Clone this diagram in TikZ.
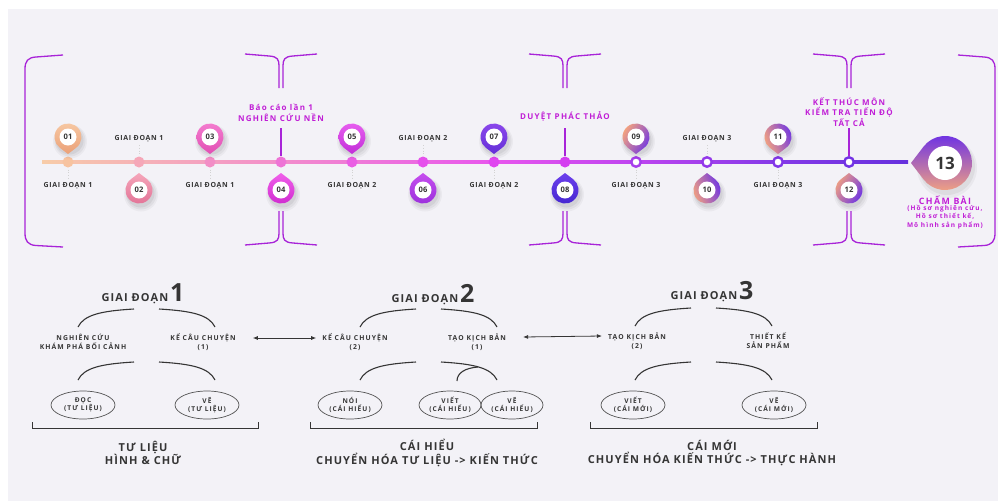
\documentclass[tikz,border=0pt]{standalone}
\usepackage{fontspec}
\setmainfont{Open Sans}
\newfontfamily\lblfont{Open Sans}[LetterSpace=10]
\newfontfamily\widefont{Open Sans}[LetterSpace=16]
\usetikzlibrary{calc,shapes.geometric,arrows.meta}

\definecolor{bgc}{HTML}{F3F2F7}
\definecolor{ink}{HTML}{353535}
\definecolor{brk}{HTML}{A824D8}
\definecolor{mag}{HTML}{C01ED6}
\definecolor{peach}{HTML}{F5A67E}
\definecolor{violet}{HTML}{6E32E4}
\definecolor{pinkm}{HTML}{E04ED8}
% dot colours along the timeline
\definecolor{d1}{HTML}{F7C3A0}
\definecolor{d2}{HTML}{F5A7B8}
\definecolor{d3}{HTML}{F28EC6}
\definecolor{d4}{HTML}{EE74D6}
\definecolor{d5}{HTML}{EA5EE4}
\definecolor{d6}{HTML}{E650EC}
\definecolor{d7}{HTML}{E046F0}
\definecolor{d8}{HTML}{D43EF0}
\definecolor{d9}{HTML}{A63DEC}
\definecolor{d10}{HTML}{9338EA}
\definecolor{d11}{HTML}{8236E8}
\definecolor{d12}{HTML}{7232E4}
% marker fills (top / bottom)
\definecolor{m1t}{HTML}{F7C9A4}\definecolor{m1b}{HTML}{EBA077}
\definecolor{m2t}{HTML}{F5A6BA}\definecolor{m2b}{HTML}{E27296}
\definecolor{m3t}{HTML}{F47ED0}\definecolor{m3b}{HTML}{E24FB4}
\definecolor{m4t}{HTML}{F060EA}\definecolor{m4b}{HTML}{CF2ACF}
\definecolor{m5t}{HTML}{E860F0}\definecolor{m5b}{HTML}{C22ED8}
\definecolor{m6t}{HTML}{C64EEE}\definecolor{m6b}{HTML}{9A30DC}
\definecolor{m7t}{HTML}{8C48EC}\definecolor{m7b}{HTML}{6530D8}
\definecolor{m8t}{HTML}{6C40EC}\definecolor{m8b}{HTML}{4426D0}
\definecolor{mxl}{HTML}{F5A47E}\definecolor{mxm}{HTML}{D55AD8}\definecolor{mxr}{HTML}{6E34E4}

% multi-stop gradient of the timeline bar
\pgfdeclarehorizontalshading{tline}{100bp}{
 rgb(0bp)=(0.97,0.80,0.66);
 rgb(25bp)=(0.97,0.80,0.66);
 rgb(39bp)=(0.95,0.55,0.80);
 rgb(51bp)=(0.91,0.34,0.93);
 rgb(59bp)=(0.75,0.27,0.94);
 rgb(67bp)=(0.53,0.23,0.91);
 rgb(75bp)=(0.40,0.19,0.87);
 rgb(100bp)=(0.40,0.19,0.87)}

\tikzset{
  tl/.style={font=\lblfont\bfseries\fontsize{7}{8}\selectfont, text=ink, inner sep=1},
  mg/.style={font=\widefont\bfseries\fontsize{8}{10.5}\selectfont, text=mag, align=center, inner sep=1},
  mgs/.style={font=\widefont\bfseries\fontsize{6.5}{8.4}\selectfont, text=mag, align=center, inner sep=1},
  num/.style={font=\bfseries\fontsize{7.6}{8}\selectfont, text=ink, inner sep=0},
  dotf/.style={circle, inner sep=0, minimum size=11},
  doth/.style={circle, inner sep=0, minimum size=9.5, fill=white, line width=2.4},
  brline/.style={brk, line width=1.3},
  vline/.style={brk, line width=1.6},
  faint/.style={gray!35, line width=0.8, dotted},
  hd/.style={font=\lblfont\bfseries\fontsize{11}{13}\selectfont, text=ink, inner sep=0},
  sm/.style={font=\widefont\bfseries\fontsize{6.8}{9}\selectfont, text=ink, align=center, inner sep=0},
  el/.style={ellipse, draw=ink!85, line width=0.7, minimum width=64, minimum height=28, inner sep=0,
             align=center, font=\widefont\bfseries\fontsize{6.6}{8.4}\selectfont, text=ink},
  bt/.style={font=\lblfont\bfseries\fontsize{11}{13.5}\selectfont, text=ink, align=center, inner sep=0},
  arcl/.style={ink, line width=1.1},
  brack/.style={ink, line width=1},
  dbl/.style={ink, line width=0.8, {Latex[length=5,width=4]}-{Latex[length=5,width=4]}},
  pics/marker/.style n args={3}{code={
    \fill[black,opacity=0.035] (2,4.5) circle (17);
    \fill[black,opacity=0.045] (2,4) circle (15.5);
    \fill[black,opacity=0.055] (1.5,3.5) circle (14);
    \shade[#3] (#2:17) -- (#2-37:13.5) arc[start angle=#2-37, end angle=#2+37-360, radius=13.5] -- cycle;
    \fill[white] (0,0) circle (8.5);
    \node[num] (-n) {#1};
  }},
  pics/dbrace/.style={code={
    \draw[brline] (-36,0) -- (-12,2) .. controls (-3,2.5) and (-2,6) .. (-2,12) -- (-2,34);
    \draw[brline] (36,0) -- (12,2) .. controls (3,2.5) and (2,6) .. (2,12) -- (2,34);
  }},
  pics/tarc/.style={code={
    \draw[arcl] (0,0) .. controls (6,-12) and (22,-16) .. (56,-18);
  }},
}

\begin{document}
\begin{tikzpicture}[x=1pt,y=-1pt]
\useasboundingbox (0,0) rectangle (998,501);
\fill[bgc] (8,9) rectangle (998,501);

% ---------- outer brackets ----------
\draw[brline] (63,55) -- (36,57) .. controls (28,57.5) and (25,61) .. (25,69) -- (25,233)
  .. controls (25,241) and (28,245) .. (36,245.5) -- (63,247);
\draw[brline] (958,55) -- (984,57) .. controls (992,57.5) and (995,61) .. (995,69) -- (995,233)
  .. controls (995,241) and (992,245) .. (984,245.5) -- (958,247);

% ---------- double braces ----------
\foreach \c/\n in {281/a,565/b,849/c}{
  \pic (bt\n) at (\c,54) {dbrace};
  \pic[yscale=-1] (bb\n) at (\c,245) {dbrace};
}

% ---------- timeline bar ----------
\shade[shading=tline] (42,160.7) rectangle (908,163.7);

% ---------- dots ----------
\foreach \i/\x in {1/68,2/139,3/210,4/281,5/352,6/423,7/494,8/565}
  \node[dotf, fill=d\i] (p\i) at (\x,162) {};
\foreach \i/\x in {9/636,10/707,11/778,12/849}
  \node[doth, draw=d\i] (p\i) at (\x,162) {};

% ---------- markers ----------
\pic (m1) at (68,137) {marker={01}{90}{top color=m1t,bottom color=m1b}};
\pic (m2) at (139,190) {marker={02}{-90}{top color=m2t,bottom color=m2b}};
\pic (m3) at (210,137) {marker={03}{90}{top color=m3t,bottom color=m3b}};
\pic (m4) at (281,190) {marker={04}{-90}{top color=m4t,bottom color=m4b}};
\pic (m5) at (352,137) {marker={05}{90}{top color=m5t,bottom color=m5b}};
\pic (m6) at (423,190) {marker={06}{-90}{top color=m6t,bottom color=m6b}};
\pic (m7) at (494,137) {marker={07}{90}{top color=m7t,bottom color=m7b}};
\pic (m8) at (565,190) {marker={08}{-90}{top color=m8t,bottom color=m8b}};
\pic (m9) at (636,137) {marker={09}{90}{left color=mxl,middle color=mxm,right color=mxr,shading angle=60}};
\pic (m10) at (707,190) {marker={10}{-90}{left color=mxl,middle color=mxm,right color=mxr,shading angle=110}};
\pic (m11) at (778,137) {marker={11}{90}{left color=mxl,middle color=mxm,right color=mxr,shading angle=110}};
\pic (m12) at (849,190) {marker={12}{-90}{left color=mxl,middle color=mxm,right color=mxr,shading angle=60}};

% ---------- final marker 13 ----------
\begin{scope}[shift={(945,163)}]
  \fill[black,opacity=0.04] (2,5) circle (30);
  \fill[black,opacity=0.05] (2,4) circle (28);
  \shade[top color=violet, middle color=pinkm, bottom color=peach]
    (180:34) -- (143:27) arc[start angle=143, end angle=-143, radius=27] -- cycle;
  \fill[white] (0,0) circle (17);
  \node[font=\bfseries\fontsize{17}{18}\selectfont, text=ink, inner sep=0] (m13) at (0,0) {13};
\end{scope}

% ---------- timeline labels ----------
\foreach \x/\k/\n in {68/1/g1,210/1/g3,352/2/g5,494/2/g7,636/3/g9,778/3/g11}{
  \node[tl] (\n) at (\x,186) {GIAI ĐOẠN \k};
  \draw[faint] (\x,169.5) -- (\x,179);
}
\foreach \x/\k/\n in {139/1/g2,423/2/g6,707/3/g10}{
  \node[tl] (\n) at (\x,139) {GIAI ĐOẠN \k};
  \draw[faint] (\x,145) -- (\x,154);
}

% ---------- milestone notes ----------
\node[mg] (t4) at (281,113) {Báo cáo lần 1\\NGHIÊN CỨU NỀN};
\node[mg] (t8) at (565,116) {DUYỆT PHÁC THẢO};
\node[mg] (t12) at (849,112) {KẾT THÚC MÔN\\KIỂM TRA TIẾN ĐỘ\\TẤT CẢ};
\draw[vline] (281,128) -- (p4.north);
\draw[vline] (565,128) -- (p8.north);
\draw[vline] (849,128) -- (p12.north);

\node[font=\widefont\bfseries\fontsize{8.8}{10}\selectfont, text=mag, inner sep=0] (t13) at (945,200) {CHẤM BÀI};
\node[mgs, anchor=north] (t13b) at (945,204) {(Hồ sơ nghiên cứu,\\Hồ sơ thiết kế,\\Mô hình sản phẩm)};

% ---------- stage 1 ----------
\node[hd, anchor=base] (h1) at (143,301) {GIAI ĐOẠN\,{\fontsize{25}{25}\selectfont 1}};
\pic (a1l) at (78,327) {tarc};
\pic[xscale=-1] (a1r) at (215,327) {tarc};
\node[sm] (s1a) at (83,342) {NGHIÊN CỨU\\KHÁM PHÁ BỐI CẢNH};
\node[sm] (s1b) at (203,342) {KỂ CÂU CHUYỆN\\(1)};
\pic (b1l) at (78,380) {tarc};
\pic[xscale=-1] (b1r) at (215,380) {tarc};
\node[el] (e1a) at (83,405) {ĐỌC\\(TƯ LIỆU)};
\node[el] (e1b) at (207,405) {VẼ\\(TƯ LIỆU)};
\draw[brack] (32,422) |- (258,428) -- (258,422);
\node[bt] (f1) at (143,453) {TƯ LIỆU\\HÌNH \& CHỮ};

% ---------- stage 2 ----------
\node[hd, anchor=base] (h2) at (433,302) {GIAI ĐOẠN\,{\fontsize{25}{25}\selectfont 2}};
\pic (a2l) at (360,327) {tarc};
\pic[xscale=-1] (a2r) at (497,327) {tarc};
\node[sm] (s2a) at (355,342) {KỂ CÂU CHUYỆN\\(2)};
\node[sm] (s2b) at (477,342) {TẠO KỊCH BẢN\\(1)};
\pic (b2l) at (360,380) {tarc};
\pic[xscale=-1] (b2r) at (497,380) {tarc};
\draw[arcl] (457,381) .. controls (457,373) and (465,368) .. (478,367);
\node[el] (e2a) at (350,405) {NÓI\\(CÁI HIỂU)};
\node[el, minimum width=62] (e2b) at (450,405) {VIẾT\\(CÁI HIỂU)};
\node[el, minimum width=62] (e2c) at (512,405) {VẼ\\(CÁI HIỂU)};
\draw[brack] (310,422) |- (537,428) -- (537,422);
\node[bt] (f2) at (427,453) {CÁI HIỂU\\CHUYỂN HÓA TƯ LIỆU -> KIẾN THỨC};

% ---------- stage 3 ----------
\node[hd, anchor=base] (h3) at (712,299) {GIAI ĐOẠN\,{\fontsize{25}{25}\selectfont 3}};
\pic (a3l) at (635,326) {tarc};
\pic[xscale=-1] (a3r) at (772,326) {tarc};
\node[sm] (s3a) at (637,341) {TẠO KỊCH BẢN\\(2)};
\node[sm] (s3b) at (768,341) {THIẾT KẾ\\SẢN PHẨM};
\pic (b3l) at (635,380) {tarc};
\pic[xscale=-1] (b3r) at (772,380) {tarc};
\node[el] (e3a) at (633,405) {VIẾT\\(CÁI MỚI)};
\node[el] (e3b) at (774,405) {VẼ\\(CÁI MỚI)};
\draw[brack] (590,422) |- (817,428) -- (817,422);
\node[bt] (f3) at (712,453) {CÁI MỚI\\CHUYỂN HÓA KIẾN THỨC -> THỰC HÀNH};

% ---------- links between stages ----------
\draw[dbl] ($(s1b.east)+(17,-4)$) -- ($(s2a.west)+(-6,-4)$);
\draw[dbl] ($(s2b.east)+(17,-5)$) -- ($(s3a.west)+(-6,-5)$);
\end{tikzpicture}
\end{document}
